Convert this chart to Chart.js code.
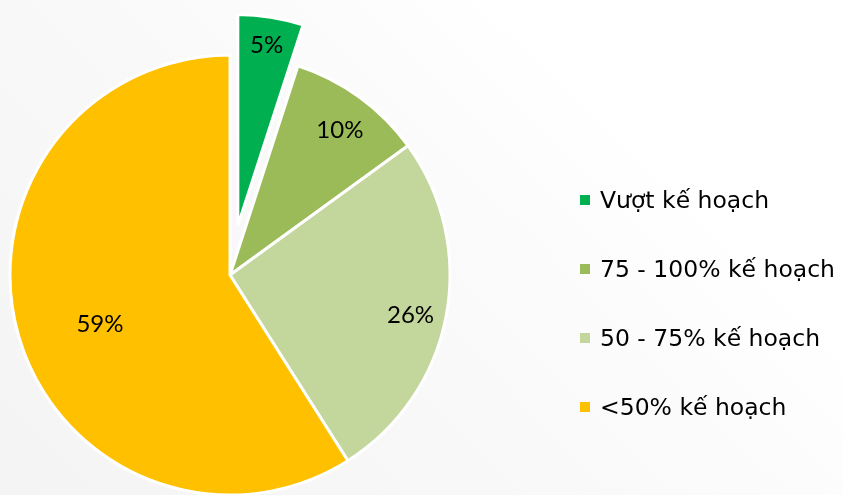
<!DOCTYPE html>
<html>
<head>
<meta charset="utf-8">
<script src="https://cdn.jsdelivr.net/npm/chart.js@4"></script>
<style>
  body { margin: 0; width: 843px; height: 495px; overflow: hidden;
         background: linear-gradient(45deg, #f4f4f5 0%, #f9f9fa 45%, #ffffff 75%); }
  #wrap { position: relative; width: 843px; height: 495px; }
  canvas { position: absolute; left: 0; top: 0; }
  #legend { position: absolute; left: 580px; top: 0; font-family: "DejaVu Sans", sans-serif; font-size: 23.5px; color: #000; }
  .item { position: absolute; left: 0; white-space: nowrap; height: 30px; line-height: 30px; }
  .item span.box { position: absolute; left: 0; top: 10px; width: 10px; height: 10px; }
  .item span.txt { position: absolute; left: 20px; top: 0; }
</style>
</head>
<body>
<div id="wrap">
  <canvas id="pieChart" width="843" height="495"></canvas>
  <div id="legend"></div>
</div>
<script>
// du lieu
const nhan = ['Vượt kế hoạch', '75 - 100% kế hoạch', '50 - 75% kế hoạch', '<50% kế hoạch'];
const giaTri = [5, 10, 26, 59];
const mauSac = ['#00B050', '#9BBB59', '#C3D69B', '#FFC000'];

// vi tri nhan % : ti le ban kinh va lech goc (do)
const viTriNhan = [0.87, 0.83, 0.84, 0.63];
const lechGoc = [0, 1, 1.5, -4];

// tach lat dau tien ra ngoai
const tachLat = {
    id: 'tachLat',
    afterDatasetsUpdate(chart) {
        const arc = chart.getDatasetMeta(0).data[0];
        if (!arc) return;
        const giua = (arc.startAngle + arc.endAngle) / 2;
        arc.x += Math.cos(giua) * 50;
        arc.y += Math.sin(giua) * 50;
        arc.outerRadius = 211;
    }
};

const nhanPhanTram = {
    id: 'nhanPhanTram',
    afterDatasetsDraw(chart) {
        const ctx = chart.ctx;
        const tong = giaTri.reduce((a, b) => a + b, 0);
        ctx.save();
        ctx.font = '24px Lato, sans-serif';
        ctx.fillStyle = '#000';
        ctx.textAlign = 'center';
        ctx.textBaseline = 'middle';
        chart.getDatasetMeta(0).data.forEach((arc, i) => {
            const giua = (arc.startAngle + arc.endAngle) / 2 + lechGoc[i] * Math.PI / 180;
            const r = arc.outerRadius * viTriNhan[i];
            const pct = Math.round(giaTri[i] / tong * 100) + '%';
            ctx.fillText(pct, arc.x + Math.cos(giua) * r, arc.y + Math.sin(giua) * r + 1);
        });
        ctx.restore();
    }
};

new Chart(document.getElementById('pieChart'), {
    type: 'pie',
    data: { labels: nhan, datasets: [{ data: giaTri, backgroundColor: mauSac, borderColor: '#ffffff', borderWidth: 3 }] },
    options: {
        responsive: false,
        animation: false,
        radius: 220,
        layout: { padding: { left: 0, right: 383, top: 55, bottom: 0 } },
        plugins: { legend: { display: false }, tooltip: { enabled: false } }
    },
    plugins: [tachLat, nhanPhanTram]
});

// chu giai
const legend = document.getElementById('legend');
const hangY = [200, 269, 338, 407];
nhan.forEach((t, i) => {
    const div = document.createElement('div');
    div.className = 'item';
    div.style.top = (hangY[i] - 15) + 'px';
    const box = document.createElement('span');
    box.className = 'box';
    box.style.background = mauSac[i];
    const txt = document.createElement('span');
    txt.className = 'txt';
    txt.textContent = t;
    div.appendChild(box);
    div.appendChild(txt);
    legend.appendChild(div);
});
</script>
</body>
</html>
